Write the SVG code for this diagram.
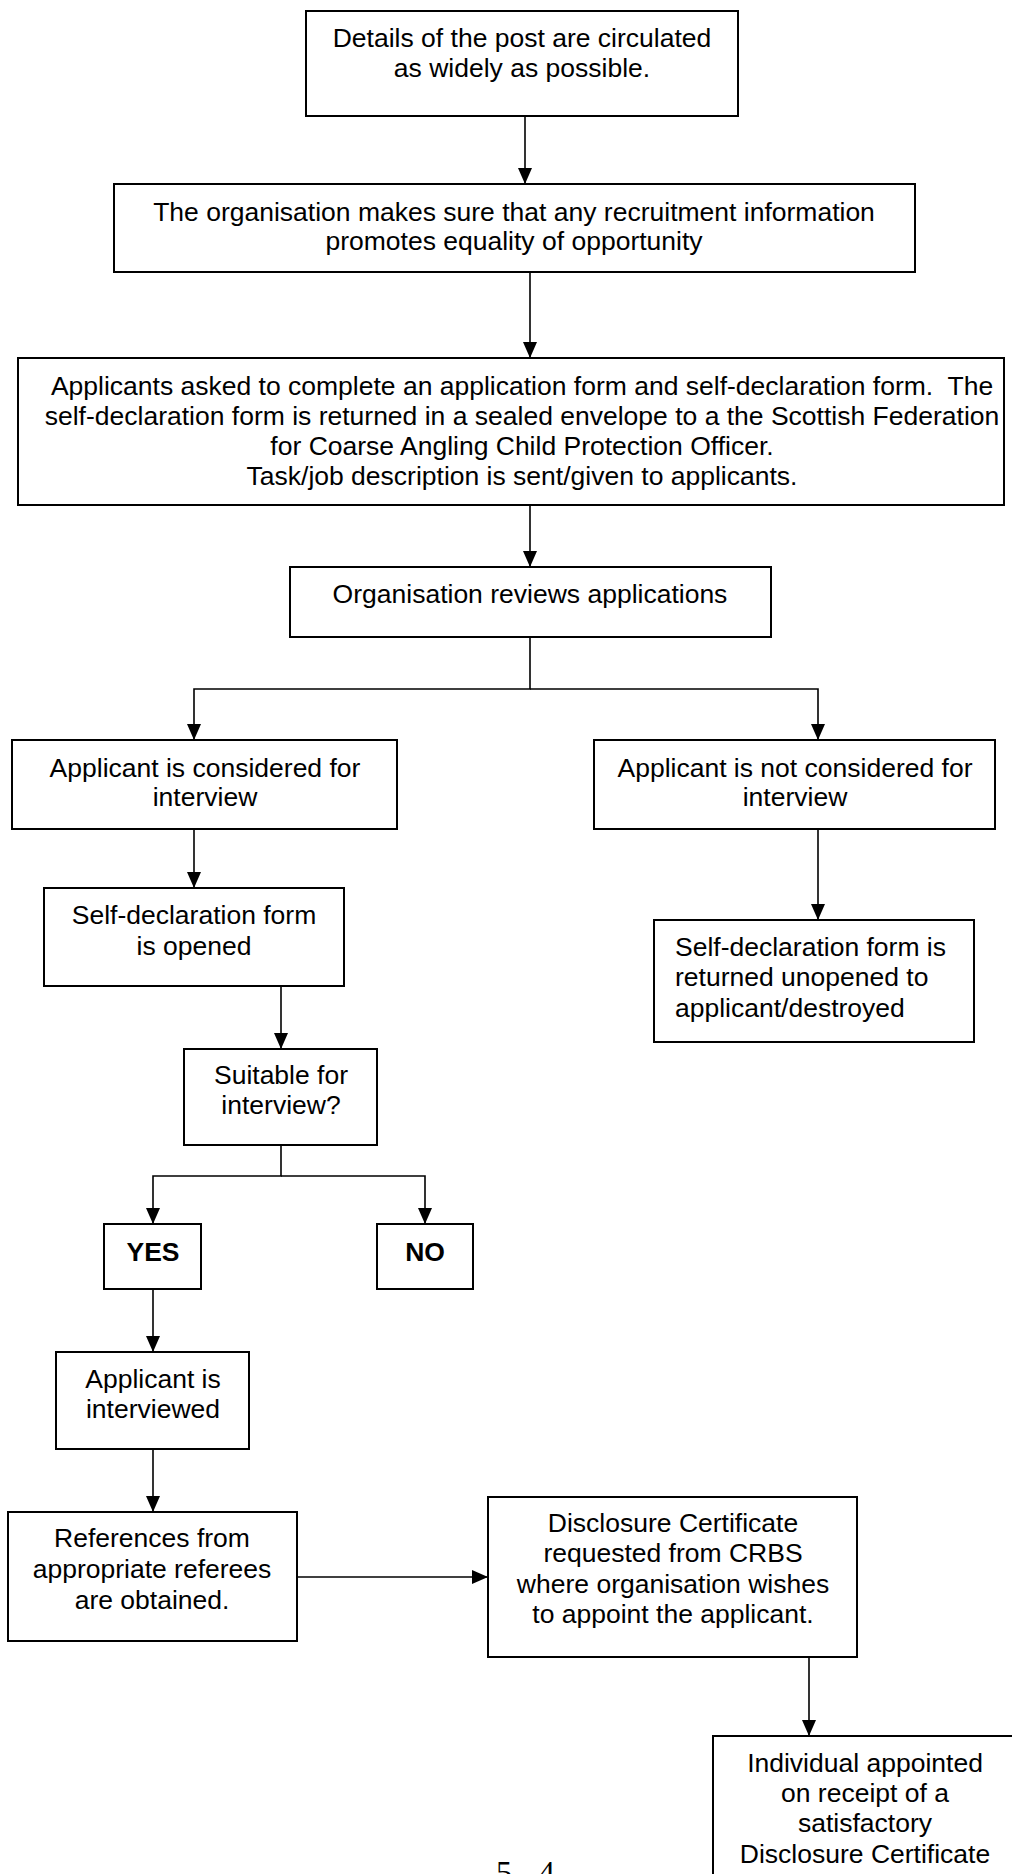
<svg xmlns="http://www.w3.org/2000/svg" width="1012" height="1874" viewBox="0 0 1012 1874">
<style>
.box{fill:#fff;stroke:#000;stroke-width:2}
.t{font-family:"Liberation Sans",Arial,sans-serif;font-size:26.5px;fill:#000;text-anchor:middle}
.l{text-anchor:start}
.b{font-weight:bold}
.c{fill:none;stroke:#000;stroke-width:1.6}
.pg{font-family:"Liberation Serif","Times New Roman",serif;font-size:32px;fill:#000}
</style>
<defs>
<marker id="ah" markerUnits="userSpaceOnUse" markerWidth="16" markerHeight="14" refX="16" refY="7" orient="auto">
<path d="M0,0 L16,7 L0,14 z" fill="#000"/>
</marker>
</defs>
<rect width="1012" height="1874" fill="#fff"/>
<g id="connectors">
<line class="c" x1="525" y1="116" x2="525" y2="184" marker-end="url(#ah)"/>
<line class="c" x1="530" y1="272" x2="530" y2="358" marker-end="url(#ah)"/>
<line class="c" x1="530" y1="505" x2="530" y2="567" marker-end="url(#ah)"/>
<polyline class="c" points="530,637 530,689 194,689 194,740" marker-end="url(#ah)"/>
<polyline class="c" points="530,689 818,689 818,740" marker-end="url(#ah)"/>
<line class="c" x1="194" y1="829" x2="194" y2="888" marker-end="url(#ah)"/>
<line class="c" x1="818" y1="829" x2="818" y2="920" marker-end="url(#ah)"/>
<line class="c" x1="281" y1="986" x2="281" y2="1049" marker-end="url(#ah)"/>
<polyline class="c" points="281,1145 281,1176 153,1176 153,1224" marker-end="url(#ah)"/>
<polyline class="c" points="281,1176 425,1176 425,1224" marker-end="url(#ah)"/>
<line class="c" x1="153" y1="1289" x2="153" y2="1352" marker-end="url(#ah)"/>
<line class="c" x1="153" y1="1449" x2="153" y2="1512" marker-end="url(#ah)"/>
<line class="c" x1="297" y1="1577" x2="488" y2="1577" marker-end="url(#ah)"/>
<line class="c" x1="809" y1="1657" x2="809" y2="1736" marker-end="url(#ah)"/>
</g>
<g id="n1">
<rect class="box" x="306" y="11" width="432" height="105"/>
<text class="t" x="522" y="47">Details of the post are circulated</text>
<text class="t" x="522" y="77">as widely as possible.</text>
</g>
<g id="n2">
<rect class="box" x="114" y="184" width="801" height="88"/>
<text class="t" x="514" y="221">The organisation makes sure that any recruitment information</text>
<text class="t" x="514" y="250">promotes equality of opportunity</text>
</g>
<g id="n3">
<rect class="box" x="18" y="358" width="986" height="147"/>
<text class="t" x="522" y="395" xml:space="preserve">Applicants asked to complete an application form and self-declaration form.  The</text>
<text class="t" x="522" y="425">self-declaration form is returned in a sealed envelope to a the Scottish Federation</text>
<text class="t" x="522" y="455">for Coarse Angling Child Protection Officer.</text>
<text class="t" x="522" y="485">Task/job description is sent/given to applicants.</text>
</g>
<g id="n4">
<rect class="box" x="290" y="567" width="481" height="70"/>
<text class="t" x="530" y="603">Organisation reviews applications</text>
</g>
<g id="n5">
<rect class="box" x="12" y="740" width="385" height="89"/>
<text class="t" x="205" y="777">Applicant is considered for</text>
<text class="t" x="205" y="806">interview</text>
</g>
<g id="n6">
<rect class="box" x="594" y="740" width="401" height="89"/>
<text class="t" x="795" y="777">Applicant is not considered for</text>
<text class="t" x="795" y="806">interview</text>
</g>
<g id="n7">
<rect class="box" x="44" y="888" width="300" height="98"/>
<text class="t" x="194" y="924">Self-declaration form</text>
<text class="t" x="194" y="955">is opened</text>
</g>
<g id="n8">
<rect class="box" x="654" y="920" width="320" height="122"/>
<text class="t l" x="675" y="956">Self-declaration form is</text>
<text class="t l" x="675" y="986">returned unopened to</text>
<text class="t l" x="675" y="1017">applicant/destroyed</text>
</g>
<g id="n9">
<rect class="box" x="184" y="1049" width="193" height="96"/>
<text class="t" x="281" y="1084">Suitable for</text>
<text class="t" x="281" y="1114">interview?</text>
</g>
<g id="n10">
<rect class="box" x="104" y="1224" width="97" height="65"/>
<text class="t b" x="153" y="1261">YES</text>
</g>
<g id="n11">
<rect class="box" x="377" y="1224" width="96" height="65"/>
<text class="t b" x="425" y="1261">NO</text>
</g>
<g id="n12">
<rect class="box" x="56" y="1352" width="193" height="97"/>
<text class="t" x="153" y="1388">Applicant is</text>
<text class="t" x="153" y="1418">interviewed</text>
</g>
<g id="n13">
<rect class="box" x="8" y="1512" width="289" height="129"/>
<text class="t" x="152" y="1547">References from</text>
<text class="t" x="152" y="1578">appropriate referees</text>
<text class="t" x="152" y="1609">are obtained.</text>
</g>
<g id="n14">
<rect class="box" x="488" y="1497" width="369" height="160"/>
<text class="t" x="673" y="1532">Disclosure Certificate</text>
<text class="t" x="673" y="1562">requested from CRBS</text>
<text class="t" x="673" y="1593">where organisation wishes</text>
<text class="t" x="673" y="1623">to appoint the applicant.</text>
</g>
<g id="n15">
<rect class="box" x="713" y="1736" width="305" height="160"/>
<text class="t" x="865" y="1772">Individual appointed</text>
<text class="t" x="865" y="1802">on receipt of a</text>
<text class="t" x="865" y="1832">satisfactory</text>
<text class="t" x="865" y="1863">Disclosure Certificate</text>
</g>
<text class="pg" x="496" y="1883">5 - 4</text>
</svg>
